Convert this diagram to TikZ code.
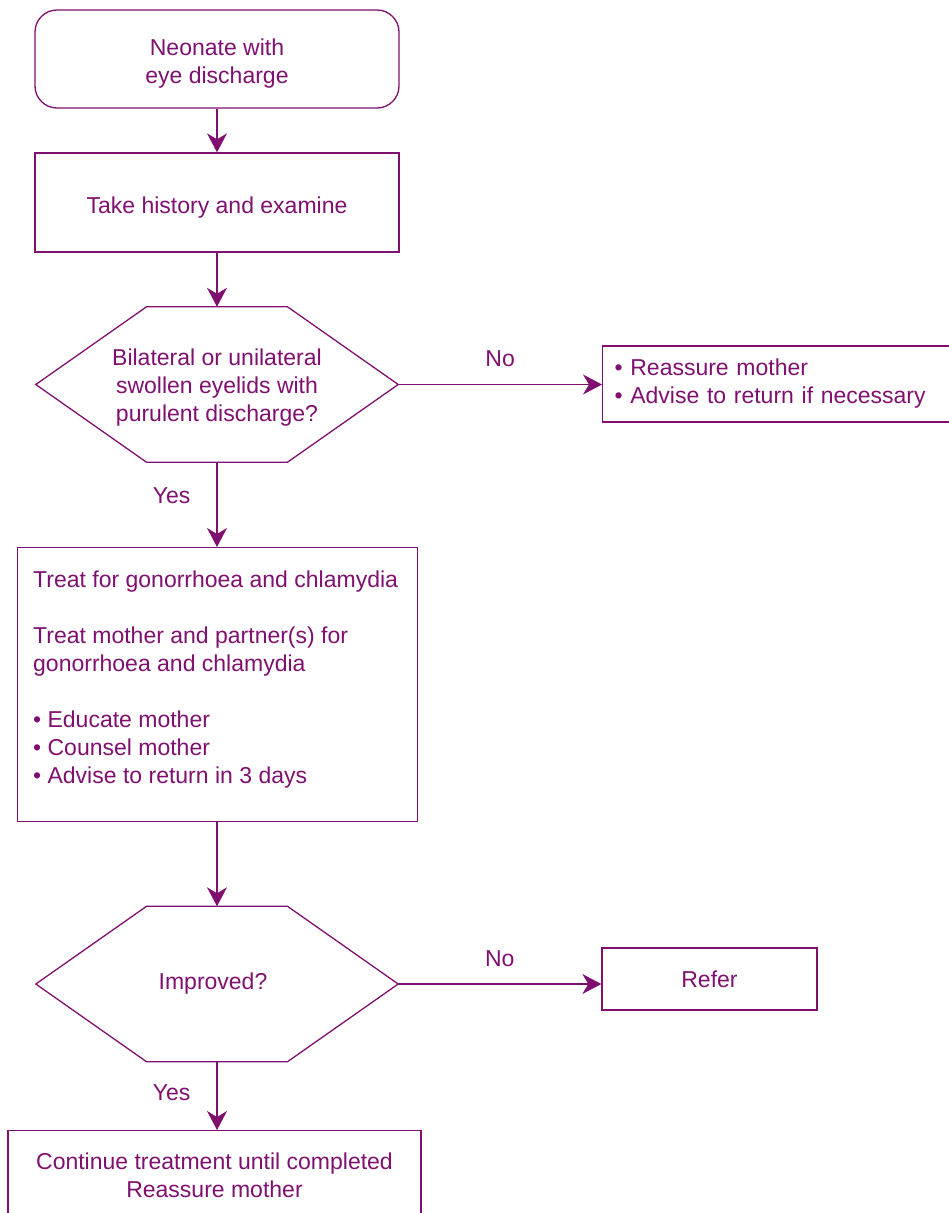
\documentclass[tikz,border=0pt]{standalone}
\usepackage{fontspec}
\setmainfont{Liberation Sans}
\usetikzlibrary{arrows.meta,calc}
\definecolor{purp}{RGB}{128,16,112}
\begin{document}
\begin{tikzpicture}[x=1pt,y=-1pt,
  every node/.style={font=\fontsize{23}{28}\selectfont, text=purp},
  box/.style={draw=purp, line width=1.3pt, line join=miter},
  arr/.style={draw=purp, line width=1.3pt, -{Stealth[length=19pt,width=20pt,inset=6pt]}},
  lbl/.style={inner sep=0pt},
  hexnode/.style={minimum width=362pt, minimum height=155pt, inner sep=0pt, align=center}]
\useasboundingbox (0,0) rectangle (949,1213);
\clip (0,0) rectangle (949,1213);

% start
\node[box, rounded corners=22pt, minimum width=364pt, minimum height=98pt, align=center] (start) at (217,59) {\rule{0pt}{25pt}Neonate with\\eye discharge};
% take history
\node[box, minimum width=364pt, minimum height=99pt] (take) at (217,202.5) {\rule{0pt}{27pt}Take history and examine};
% decision 1
\node[hexnode] (q1) at (217,384.5) {\rule{0pt}{23pt}Bilateral or unilateral\\swollen eyelids with\\purulent discharge?};
\draw[box] (q1.west) -- ($(q1.north)+(-70.5,0)$) -- ($(q1.north)+(70.5,0)$) -- (q1.east)
  -- ($(q1.south)+(70.5,0)$) -- ($(q1.south)+(-70.5,0)$) -- cycle;
% reassure box
\node[box, anchor=west, minimum height=76pt, inner xsep=12pt, text width=330pt, align=left] (r1) at (602,384)
  {\textbullet{} Reassure mother\\\textbullet{} Advise to return if necessary};
% treat box
\node[box, anchor=north west, minimum width=400pt, minimum height=274pt] (treat) at (17,547) {};
\node[anchor=north west, align=left, inner sep=0pt] (treattxt) at (33,571)
  {Treat for gonorrhoea and chlamydia\\[28pt]Treat mother and partner(s) for\\gonorrhoea and chlamydia\\[28pt]\textbullet{} Educate mother\\\textbullet{} Counsel mother\\\textbullet{} Advise to return in 3 days};
% decision 2
\node[hexnode] (q2) at (217,984) {\rule{0pt}{16pt}\hspace*{-8pt}Improved?};
\draw[box] (q2.west) -- ($(q2.north)+(-70.5,0)$) -- ($(q2.north)+(70.5,0)$) -- (q2.east)
  -- ($(q2.south)+(70.5,0)$) -- ($(q2.south)+(-70.5,0)$) -- cycle;
% refer
\node[box, minimum width=215pt, minimum height=62pt] (refer) at (709.5,979) {Refer};
% continue
\node[box, anchor=north, minimum width=413pt, inner ysep=22pt, align=center] (cont) at (214.5,1130)
  {Continue treatment until completed\\Reassure mother};

% connectors
\draw[arr] (start.south) -- (take.north);
\draw[arr] (take.south) -- (q1.north);
\draw[arr] (q1.south) -- node[lbl, pos=0.4, left=26pt] {Yes} (q1.south |- treat.north);
\draw[arr] (q1.east) -- node[lbl, midway, above=17pt] {No} (q1.east -| r1.west);
\draw[arr] (treat.south) -- (treat.south -| q2.north) -- (q2.north);
\draw[arr] (q2.east) -- node[lbl, midway, above=17pt] {No} (q2.east -| refer.west);
\draw[arr] (q2.south) -- node[lbl, pos=0.46, left=26pt] {Yes} (q2.south |- cont.north);
\end{tikzpicture}
\end{document}
